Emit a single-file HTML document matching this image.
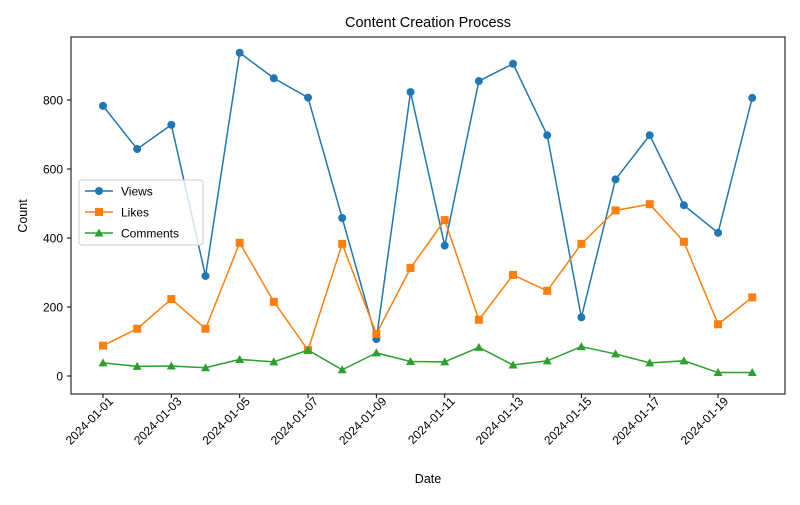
<!DOCTYPE html>
<html><head><meta charset="utf-8"><style>
body{margin:0;background:#fff}
svg{font-family:"Liberation Sans","DejaVu Sans",sans-serif}
</style></head><body>
<svg id="s" width="800" height="500" xmlns="http://www.w3.org/2000/svg">
<rect width="800" height="500" fill="#fff"/>
<text x="428" y="27" font-size="14.5" text-anchor="middle">Content Creation Process</text>
<text x="428" y="483" font-size="12.5" text-anchor="middle">Date</text>
<text transform="translate(27,216) rotate(-90)" font-size="12.5" text-anchor="middle">Count</text>
<g id="g"></g>
<rect x="71" y="37" width="714" height="357" fill="none" stroke="#000" stroke-width="1"/>
</svg>
<script>
const V=[783,658,728,290,937,863,807,458,107,823,378,855,905,698,170,570,698,495,415,806];
const L=[88,137,223,137,386,215,75,383,122,313,452,163,293,247,383,480,498,389,150,228];
const C=[38,28,29,24,48,41,75,18,67,42,41,83,32,44,85,64,38,44,10,10];
const X=i=>103+i*34.17, Y=v=>376-0.345*v;
let h='';
for(let v=0;v<=800;v+=200){const y=Y(v);h+=`<line x1="67" x2="71" y1="${y}" y2="${y}" stroke="#000"/><text x="63" y="${y+4.5}" font-size="12" text-anchor="end">${v}</text>`;}
for(let i=0;i<20;i+=2){const x=X(i);const d=String(i+1).padStart(2,'0');h+=`<line x1="${x}" x2="${x}" y1="394" y2="398" stroke="#000"/><text transform="translate(${x+11},402) rotate(-45)" font-size="12" text-anchor="end">2024-01-${d}</text>`;}
function ser(D,c,m){let p=D.map((v,i)=>X(i)+','+Y(v)).join(' ');h+=`<polyline points="${p}" fill="none" stroke="${c}" stroke-width="1.5"/>`;D.forEach((v,i)=>h+=mk(X(i),Y(v),c,m));}
function mk(x,y,c,m){if(m=='o')return `<circle cx="${x}" cy="${y}" r="4" fill="${c}"/>`;if(m=='s')return `<rect x="${x-4}" y="${y-4}" width="8" height="8" fill="${c}"/>`;return `<polygon points="${x},${y-4.5} ${x-4.5},${y+3.5} ${x+4.5},${y+3.5}" fill="${c}"/>`;}
ser(V,'#1f77b4','o');ser(L,'#ff7f0e','s');ser(C,'#2ca02c','^');
h+=`<rect x="79" y="180" width="124" height="65" rx="3" fill="#fff" fill-opacity="0.8" stroke="#ccc"/>`;
[['Views','#1f77b4','o',191],['Likes','#ff7f0e','s',212],['Comments','#2ca02c','^',233]].forEach(e=>{h+=`<line x1="85" x2="113" y1="${e[3]}" y2="${e[3]}" stroke="${e[1]}" stroke-width="1.5"/>`+mk(99,e[3],e[1],e[2])+`<text x="121" y="${e[3]+4.5}" font-size="12">${e[0]}</text>`;});
document.getElementById('g').innerHTML=h;
</script>
</body></html>
